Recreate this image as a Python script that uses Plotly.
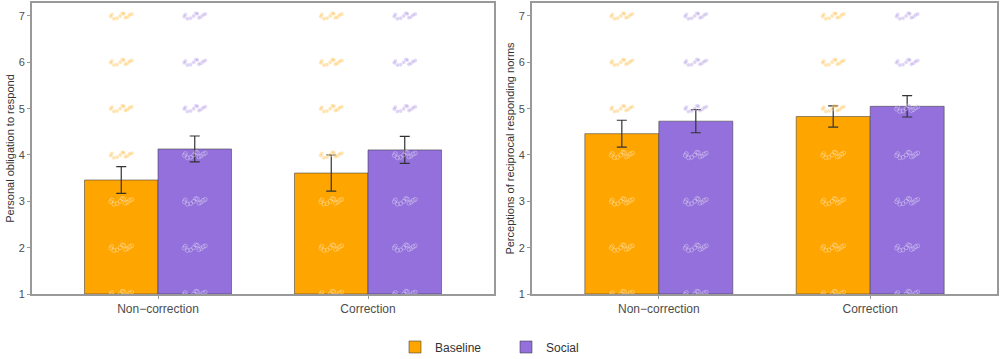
import plotly.graph_objects as go

categories = ["Non\u2212correction", "Correction"]
conditions = ["Baseline", "Social"]
colors = {"Baseline": "#FFA500", "Social": "#9370DB"}

# Panel 1: Personal obligation to respond
obligation_mean = {"Baseline": [3.46, 3.61], "Social": [4.13, 4.11]}
obligation_se = {"Baseline": [0.29, 0.39], "Social": [0.28, 0.29]}
# Panel 2: Perceptions of reciprocal responding norms
norms_mean = {"Baseline": [4.46, 4.83], "Social": [4.73, 5.05]}
norms_se = {"Baseline": [0.29, 0.23], "Social": [0.25, 0.23]}

y_titles = ["Personal obligation to respond", "Perceptions of reciprocal responding norms"]

# Individual Likert responses (levels 1-7), drawn as small jittered clusters
likert_levels = [1, 2, 3, 4, 5, 6, 7]
jitter_x = [-0.045, -0.02, 0.005, 0.03, 0.05, -0.035, -0.005, 0.02, 0.04, -0.05, 0.012]
jitter_y = [0.03, -0.05, 0.06, -0.02, 0.04, -0.06, 0.0, -0.04, 0.02, -0.01, 0.05]

W, H = 1000, 359
x_domains = [[32 / W, 494 / W], [532 / W, 997 / W]]
y_domain = [1 - 294 / H, 1 - 3 / H]

fig = go.Figure()

bar_w = 0.35
panels = [(obligation_mean, obligation_se), (norms_mean, norms_se)]
for p, (means, ses) in enumerate(panels):
    xa = "x" if p == 0 else "x2"
    ya = "y" if p == 0 else "y2"
    for ci, cond in enumerate(conditions):
        fig.add_trace(go.Bar(
            x=[0, 1], y=[m - 1 for m in means[cond]], base=1,
            name=cond, legendgroup=cond, showlegend=(p == 0),
            marker=dict(color=colors[cond], line=dict(color="rgba(60,60,60,0.55)", width=1)),
            error_y=dict(type="data", array=ses[cond], color="#333333", thickness=1.2, width=5),
            offsetgroup=cond, xaxis=xa, yaxis=ya, hoverinfo="skip",
        ))
    for ci, cond in enumerate(conditions):
        off = -bar_w / 2 if ci == 0 else bar_w / 2
        px, py = [], []
        for k in range(len(categories)):
            for lv in likert_levels:
                for jx, jy in zip(jitter_x, jitter_y):
                    px.append(k + off + jx)
                    py.append(lv + jy)
        fc = "rgba(255,165,0,0.3)" if cond == "Baseline" else "rgba(147,112,219,0.3)"
        fig.add_trace(go.Scatter(
            x=px, y=py, mode="markers", showlegend=False, hoverinfo="skip",
            marker=dict(size=4, color=fc, line=dict(color="rgba(255,255,255,0.4)", width=0.8)),
            xaxis=xa, yaxis=ya, cliponaxis=True,
        ))

axis_common = dict(showline=True, mirror=True, linecolor="#999999", linewidth=2,
                   ticks="outside", ticklen=3, tickcolor="#999999", showgrid=False,
                   zeroline=False, automargin=False)

fig.update_layout(
    width=W, height=H,
    margin=dict(l=0, r=0, t=0, b=0, autoexpand=False),
    plot_bgcolor="white", paper_bgcolor="white",
    font=dict(family="Liberation Sans, Arial, sans-serif", color="#333333"),
    barmode="group", bargap=0.3, bargroupgap=0,
    legend=dict(orientation="h", x=0.506, xanchor="center", y=1 - 347 / H, yanchor="middle",
                font=dict(size=12, color="#333333"), itemwidth=30, traceorder="normal",
                entrywidth=66, entrywidthmode="pixels"),
    xaxis=dict(domain=x_domains[0], range=[-0.6, 1.6], tickvals=[0, 1], ticktext=categories,
               anchor="y", tickfont=dict(size=12, color="#4d4d4d"), **axis_common),
    xaxis2=dict(domain=x_domains[1], range=[-0.6, 1.6], tickvals=[0, 1], ticktext=categories,
                anchor="y2", tickfont=dict(size=12, color="#4d4d4d"), **axis_common),
    yaxis=dict(domain=y_domain, range=[1, 7.28], tickvals=likert_levels, anchor="x",
               tickfont=dict(size=11, color="#4d4d4d"),
               title=dict(text=y_titles[0], font=dict(size=11, color="#333333"), standoff=2),
               **axis_common),
    yaxis2=dict(domain=y_domain, range=[1, 7.28], tickvals=likert_levels, anchor="x2",
                tickfont=dict(size=11, color="#4d4d4d"),
                title=dict(text=y_titles[1], font=dict(size=11, color="#333333"), standoff=2),
                **axis_common),
)

fig.write_html("out.html", config={"displayModeBar": False},
               post_script="document.body.style.margin='0';document.body.style.overflow='hidden';")
